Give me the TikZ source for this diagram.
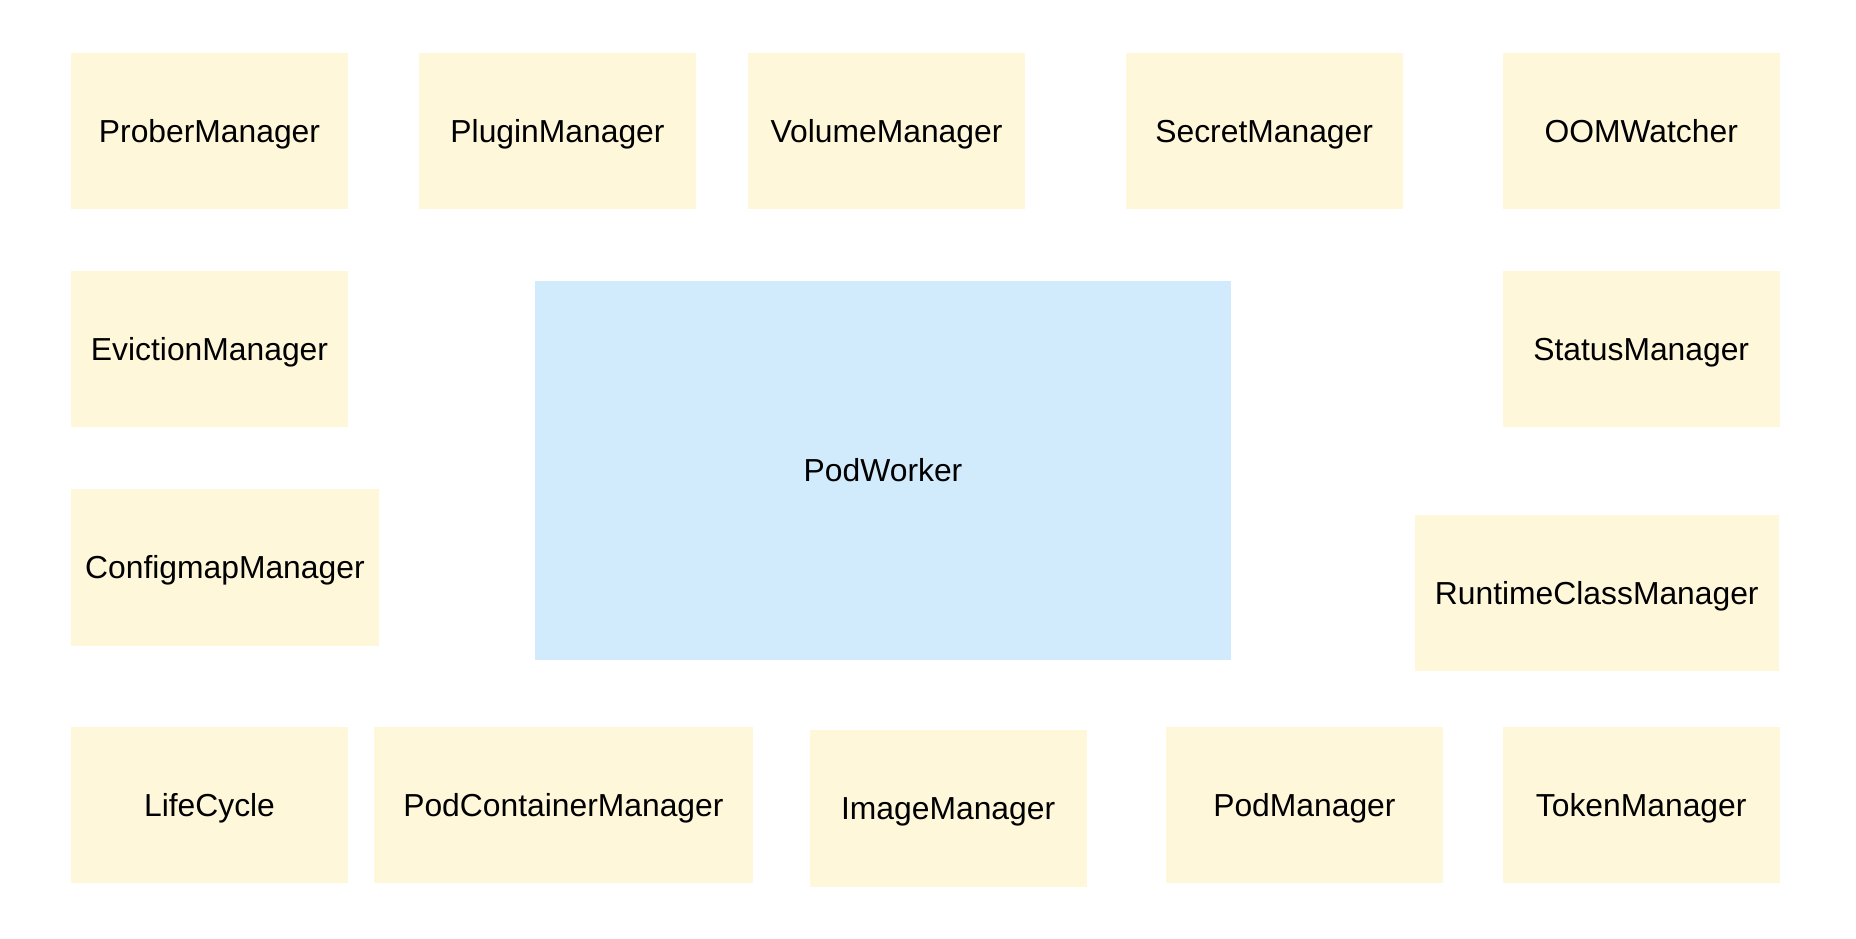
\documentclass[tikz,border=0pt]{standalone}
\usepackage{fontspec}
\setmainfont{Liberation Sans}
\definecolor{mgrfill}{RGB}{254,247,218}
\definecolor{workerfill}{RGB}{209,234,252}
\begin{document}
\begin{tikzpicture}[mgr/.style={fill=mgrfill,inner sep=0,minimum width=4.68cm,minimum height=2.64cm,text height=0.386cm,text depth=0cm,font=\fontsize{15.3pt}{18pt}\selectfont},
worker/.style={mgr,fill=workerfill,minimum width=11.76cm,minimum height=6.42cm}]
\useasboundingbox (0,0) rectangle (31.36,15.85);
\node[worker] at (14.92,7.90) (podworker) {PodWorker};
\node[mgr] at (3.54,13.63) (prober) {ProberManager};
\node[mgr] at (9.42,13.63) (plugin) {PluginManager};
\node[mgr] at (14.98,13.63) (volume) {VolumeManager};
\node[mgr] at (21.36,13.63) (secret) {SecretManager};
\node[mgr] at (27.73,13.63) (oom) {OOMWatcher};
\node[mgr] at (3.54,9.95) (eviction) {EvictionManager};
\node[mgr] at (27.73,9.95) (status) {StatusManager};
\node[mgr,minimum width=5.2cm,minimum height=2.66cm] at (3.8,6.26) (configmap) {ConfigmapManager};
\node[mgr,minimum width=6.16cm] at (26.98,5.83) (runtimeclass) {RuntimeClassManager};
\node[mgr] at (3.54,2.25) (lifecycle) {LifeCycle};
\node[mgr,minimum width=6.4cm] at (9.52,2.25) (podcontainer) {PodContainerManager};
\node[mgr] at (16.02,2.19) (image) {ImageManager};
\node[mgr] at (22.04,2.25) (podmgr) {PodManager};
\node[mgr] at (27.73,2.25) (token) {TokenManager};
\end{tikzpicture}
\end{document}
